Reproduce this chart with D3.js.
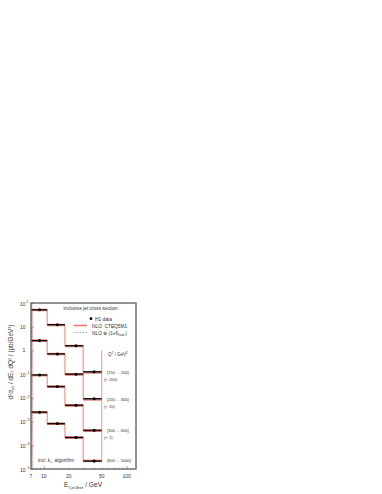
<!DOCTYPE html>
<html><head><meta charset="utf-8">
<script src="https://cdn.jsdelivr.net/npm/d3@7"></script>
<style>body{margin:0;background:#fff}svg{display:block}text{font-family:"Liberation Sans",Arial,sans-serif}</style>
</head><body>
<svg id="c" width="382" height="494"></svg>
<script>
// ---- data ----
const binEdges = [7, 11, 18, 30, 50];
const binCentres = [8.9, 14.6, 24.5, 40.5];
const q2Labels = ["[150 ... 200]", "[200 ... 300]", "[300 ... 600]", "[600 ... 5000]"];
const factorLabels = ["(× 200)", "(× 20)", "(× 2)", ""];
const factors = [200, 20, 2, 1];
// NLO CTEQ5M1 (pb/GeV^3, unscaled)
const nlo1 = [0.254, 0.059, 0.00765, 0.000595];
const nlo2 = [0.1285, 0.03525, 0.0049, 0.000435];
const nlo3 = [0.0455, 0.01475, 0.0024, 0.000205];
const nlo4 = [0.00245, 0.00081, 0.00021, 0.000022];
// NLO x (1+delta_hadr)
const had1 = [0.247, 0.0578, 0.0075, 0.00058];
const had2 = [0.125, 0.0346, 0.0048, 0.000425];
const had3 = [0.0443, 0.0145, 0.00236, 0.0002];
const had4 = [0.00239, 0.000795, 0.000206, 0.0000215];
// H1 data and errors
const dat1 = [0.258, 0.061, 0.0079, 0.00063];
const dat2 = [0.130, 0.0357, 0.0050, 0.00046];
const dat3 = [0.0460, 0.0150, 0.00245, 0.000215];
const dat4 = [0.00250, 0.00082, 0.000215, 0.0000215];
const err1 = [0.012, 0.003, 0.0004, 0.00005];
const err2 = [0.006, 0.0018, 0.00025, 0.00004];
const err3 = [0.0022, 0.0008, 0.00012, 0.00002];
const err4 = [0.00012, 0.00004, 0.000011, 0.0000025];
const xTicks = [7, 10, 20, 50, 100];
const yTickExp = [2, 1, 0, -1, -2, -3, -4, -5];

const nlo = [nlo1, nlo2, nlo3, nlo4];
const had = [had1, had2, had3, had4];
const dat = [dat1, dat2, dat3, dat4];
const err = [err1, err2, err3, err4];

// ---- layout ----
const svg = d3.select("#c");
const L = 31, R = 136, T = 303, B = 469;
const x = d3.scaleLog().domain([7, 130]).range([L, R]);
const y = d3.scaleLog().domain([1e-5, 1e2]).range([B, T]);

const pink = "#f4aaa0", red = "#ec5a48";

// outer vertical lines of the NLO histograms
svg.append("line").attr("x1", x(binEdges[0]) + 1).attr("x2", x(binEdges[0]) + 1)
  .attr("y1", y(nlo1[0] * factors[0])).attr("y2", B)
  .attr("stroke", pink).attr("stroke-width", 1.5);
svg.append("line").attr("x1", x(binEdges[4])).attr("x2", x(binEdges[4]))
  .attr("y1", y(1)).attr("y2", y(nlo4[3] * factors[3]))
  .attr("stroke", pink).attr("stroke-width", 1.2);

nlo.forEach((s, k) => {
  const f = factors[k];
  for (let i = 0; i < s.length - 1; i++) {
    svg.append("line").attr("x1", x(binEdges[i + 1])).attr("x2", x(binEdges[i + 1]))
      .attr("y1", y(s[i] * f)).attr("y2", y(s[i + 1] * f))
      .attr("stroke", pink).attr("stroke-width", 1.5);
  }
  s.forEach((v, i) => {
    svg.append("line").attr("x1", x(binEdges[i])).attr("x2", x(binEdges[i + 1]))
      .attr("y1", y(v * f)).attr("y2", y(v * f))
      .attr("stroke", red).attr("stroke-width", 2.4);
  });
  had[k].forEach((v, i) => {
    svg.append("line").attr("x1", x(binEdges[i])).attr("x2", x(binEdges[i + 1]))
      .attr("y1", y(v * f)).attr("y2", y(v * f))
      .attr("stroke", "#999").attr("stroke-width", 1.2).attr("stroke-dasharray", "2,1.2");
  });
  dat[k].forEach((v, i) => {
    const cx = x(binCentres[i]), cy = y(v * f);
    svg.append("line").attr("x1", x(binEdges[i])).attr("x2", x(binEdges[i + 1]))
      .attr("y1", cy).attr("y2", cy).attr("stroke", "#111").attr("stroke-width", 1.3);
    svg.append("line").attr("x1", cx).attr("x2", cx)
      .attr("y1", y((v + err[k][i]) * f)).attr("y2", y((v - err[k][i]) * f))
      .attr("stroke", "#111").attr("stroke-width", 1);
    svg.append("circle").attr("cx", cx).attr("cy", cy).attr("r", 1.5).attr("fill", "#000");
  });
});

// ---- axes (ticks pointing inward) ----
const yMinor = [];
for (let e = -5; e < 2; e++) for (let m = 2; m <= 9; m++) yMinor.push(m * Math.pow(10, e));
svg.append("g").attr("transform", `translate(${L},0)`)
  .call(d3.axisLeft(y).tickValues(yMinor).tickSize(-1.5).tickFormat(""))
  .call(g => g.select(".domain").remove())
  .call(g => g.selectAll("line").attr("stroke", "#777").attr("stroke-width", 0.5));
svg.append("g").attr("transform", `translate(${L},0)`)
  .call(d3.axisLeft(y).tickValues(yTickExp.map(e => Math.pow(10, e))).tickSize(-3).tickFormat(""))
  .call(g => g.select(".domain").remove())
  .call(g => g.selectAll("line").attr("stroke", "#777").attr("stroke-width", 0.6));
const xMinor = [8, 9, 20, 30, 40, 50, 60, 70, 80, 90];
svg.append("g").attr("transform", `translate(0,${B})`)
  .call(d3.axisBottom(x).tickValues(xMinor).tickSize(-1.5).tickFormat(""))
  .call(g => g.select(".domain").remove())
  .call(g => g.selectAll("line").attr("stroke", "#777").attr("stroke-width", 0.5));
svg.append("g").attr("transform", `translate(0,${B})`)
  .call(d3.axisBottom(x).tickValues([10, 100]).tickSize(-3).tickFormat(""))
  .call(g => g.select(".domain").remove())
  .call(g => g.selectAll("line").attr("stroke", "#777").attr("stroke-width", 0.6));

// frame
svg.append("rect").attr("x", L).attr("y", T).attr("width", R - L).attr("height", B - T)
  .attr("fill", "none").attr("stroke", "#666").attr("stroke-width", 1.4);

// y tick labels
yTickExp.forEach(e => {
  const yy = y(Math.pow(10, e));
  if (e === 0) {
    svg.append("text").attr("x", 24).attr("y", yy + 1.8).attr("text-anchor", "middle")
      .attr("font-size", 5).attr("fill", "#333").text("1");
  } else {
    svg.append("text").attr("x", 25.5).attr("y", yy + 2.5).attr("text-anchor", "end")
      .attr("font-size", 5).attr("fill", "#333").text("10");
    if (e !== 1) svg.append("text").attr("x", 26.3).attr("y", yy - 0.3)
      .attr("font-size", 3.4).attr("fill", "#333").text(e > 0 ? String(e) : "-" + (-e));
  }
});
xTicks.forEach(v => {
  svg.append("text").attr("x", x(v)).attr("y", B + 9).attr("text-anchor", "middle")
    .attr("font-size", 5).attr("fill", "#333").text(v);
});

// axis titles
const xt = svg.append("text").attr("x", 83).attr("y", 487).attr("text-anchor", "middle")
  .attr("font-size", 6.6).attr("fill", "#333");
xt.append("tspan").text("E");
xt.append("tspan").attr("font-size", 3.6).attr("dy", 1.6).text("T,jet,Breit");
xt.append("tspan").attr("dy", -1.6).text("  / GeV");

const yt = svg.append("text").attr("transform", `translate(13,362) rotate(-90)`)
  .attr("text-anchor", "middle").attr("font-size", 6.4).attr("fill", "#333");
yt.append("tspan").text("d");
yt.append("tspan").attr("font-size", 3.8).attr("dy", -2.4).text("2");
yt.append("tspan").attr("dy", 2.4).text("σ");
yt.append("tspan").attr("font-size", 3.8).attr("dy", 1.4).text("jet");
yt.append("tspan").attr("dy", -1.4).text(" / dE");
yt.append("tspan").attr("font-size", 3.8).attr("dy", 1.4).text("T");
yt.append("tspan").attr("dy", -1.4).text(" dQ");
yt.append("tspan").attr("font-size", 3.8).attr("dy", -2.4).text("2");
yt.append("tspan").attr("dy", 2.4).text("  / (pb/GeV");
yt.append("tspan").attr("font-size", 3.8).attr("dy", -2.4).text("3");
yt.append("tspan").attr("dy", 2.4).text(")");

// title and legend
svg.append("text").attr("x", 90.5).attr("y", 309.5).attr("text-anchor", "middle")
  .attr("font-size", 4.8).attr("fill", "#333").text("inclusive jet cross section");
svg.append("circle").attr("cx", 91).attr("cy", 318.7).attr("r", 1.4).attr("fill", "#000");
svg.append("text").attr("x", 95).attr("y", 320.5).attr("font-size", 4.8).attr("fill", "#333").text("H1 data");
svg.append("line").attr("x1", 74).attr("x2", 87).attr("y1", 325.5).attr("y2", 325.5)
  .attr("stroke", red).attr("stroke-width", 1.6).attr("opacity", 0.8);
svg.append("text").attr("x", 92).attr("y", 327.5).attr("font-size", 4.8).attr("fill", "#333")
  .attr("xml:space", "preserve").text("NLO  CTEQ5M1");
svg.append("line").attr("x1", 74).attr("x2", 87).attr("y1", 332.5).attr("y2", 332.5)
  .attr("stroke", "#999").attr("stroke-width", 0.8).attr("stroke-dasharray", "1.6,1.2");
const lt = svg.append("text").attr("x", 92).attr("y", 334.5).attr("font-size", 4.8).attr("fill", "#333");
lt.append("tspan").text("NLO ⊗ (1+δ");
lt.append("tspan").attr("font-size", 3.2).attr("dy", 1.2).text("hadr.");
lt.append("tspan").attr("dy", -1.2).text(")");

const qt = svg.append("text").attr("x", 108).attr("y", 355.5).attr("font-size", 4.5).attr("fill", "#333");
qt.append("tspan").text("Q");
qt.append("tspan").attr("font-size", 3).attr("dy", -1.8).text("2");
qt.append("tspan").attr("dy", 1.8).text(" / GeV");
qt.append("tspan").attr("font-size", 3).attr("dy", -1.8).text("2");

q2Labels.forEach((t, k) => {
  const yy = y(nlo[k][3] * factors[k]);
  svg.append("text").attr("x", 107).attr("y", yy + 1.5).attr("font-size", 4.1).attr("fill", "#333").text(t);
  if (factorLabels[k]) svg.append("text").attr("x", 104).attr("y", yy + 8.5)
    .attr("font-size", 4.1).attr("fill", "#333").text(factorLabels[k]);
});

const kt = svg.append("text").attr("x", 38).attr("y", 461.5).attr("font-size", 4.8).attr("fill", "#333");
kt.append("tspan").text("incl. k");
kt.append("tspan").attr("font-size", 3.2).attr("dy", 1.2).text("⊥");
kt.append("tspan").attr("dy", -1.2).text("  algorithm");
</script>
</body></html>
